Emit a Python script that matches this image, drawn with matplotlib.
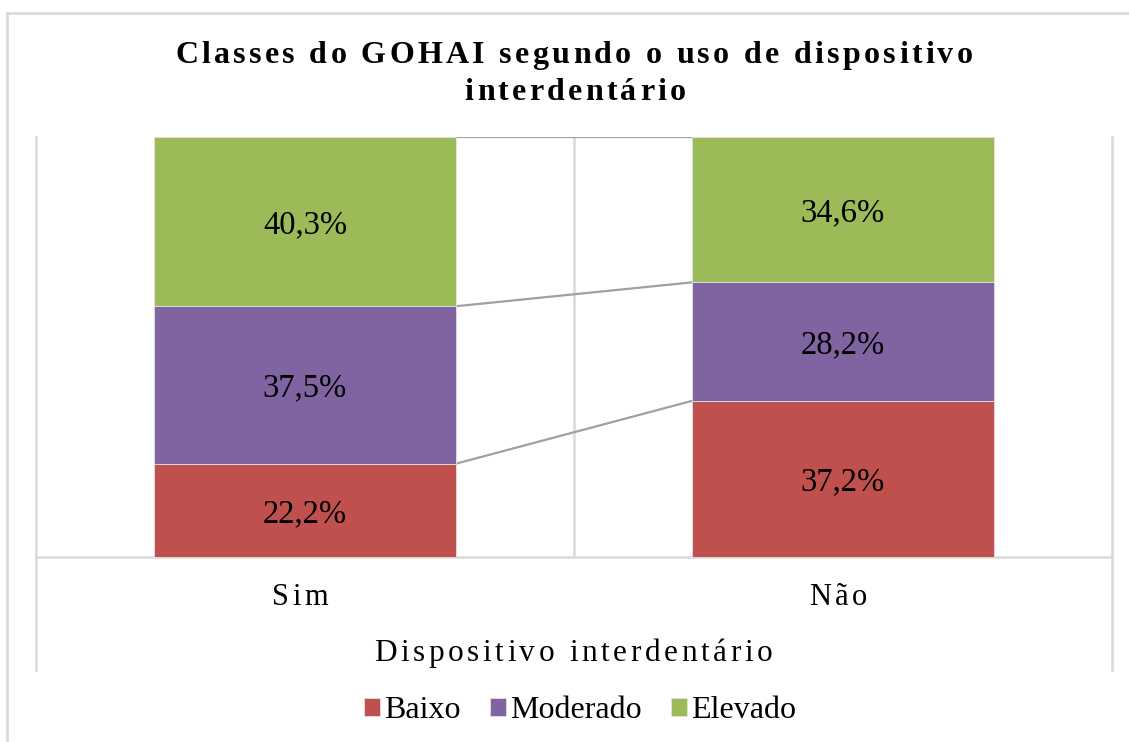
import matplotlib
matplotlib.use('Agg')
import matplotlib.pyplot as plt
from matplotlib.lines import Line2D
from matplotlib.font_manager import FontProperties

plt.rcParams['font.family'] = ['Liberation Serif', 'DejaVu Serif']

# dados
grupos = ['Sim', 'Não']
classes = ['Baixo', 'Moderado', 'Elevado']
baixo = [22.2, 37.2]
moderado = [37.5, 28.2]
elevado = [40.3, 34.6]
cores = ['#C0504D', '#8064A2', '#9BBB59']

W, H = 1129, 742
fig = plt.figure(figsize=(W / 100, H / 100), dpi=100)
ax = fig.add_axes([36 / W, 1 - 557 / H, (1112 - 36) / W, (557 - 137) / H])
ax.set_xlim(-0.5, 1.5)
ax.set_ylim(0, 100)
ax.axis('off')

largura = 0.56
x = list(range(len(grupos)))
series = [baixo, moderado, elevado]
base = [0.0] * len(grupos)
cumul = []
for nome, vals, cor in zip(classes, series, cores):
    ax.bar(x, vals, largura, bottom=base, color=cor, edgecolor='#e8e0e0',
           linewidth=0.6, label=nome, zorder=3)
    for xi, v, b in zip(x, vals, base):
        ax.text(xi, b + v / 2, f'{v:.1f}%'.replace('.', ','), ha='center',
                va='center_baseline', fontsize=23.5, color='black', zorder=4)
    base = [b + v for b, v in zip(base, vals)]
    cumul.append(list(base))

# linhas de série
for c in cumul:
    ax.plot([largura / 2, 1 - largura / 2], c, color='#A0A0A0', lw=1.6, zorder=2)

# grade / eixo
grid = '#D9D9D9'
ax.axvline(0.5, color=grid, lw=1.8, zorder=1)
ax.axhline(0, color=grid, lw=1.8, zorder=1, clip_on=False)
for xp in (36, 1112):
    fig.add_artist(Line2D([xp / W, xp / W], [1 - 137 / H, 1 - 670 / H],
                          color=grid, lw=1.8))
# borda do gráfico
fig.add_artist(Line2D([7 / W, 7 / W], [0, 1 - 13 / H], color=grid, lw=2))
fig.add_artist(Line2D([7 / W, 1], [1 - 13 / H, 1 - 13 / H], color=grid, lw=2))

renderer = fig.canvas.get_renderer()


def texto_espacado(s, cx, base_y, esp, size, weight='normal'):
    prop = FontProperties(family='Liberation Serif', size=size, weight=weight)

    def larg(t):
        w1, _, _ = renderer.get_text_width_height_descent(t + '|', prop, ismath=False)
        w0, _, _ = renderer.get_text_width_height_descent('|', prop, ismath=False)
        return w1 - w0

    pos = [larg(s[:i]) if i else 0.0 for i in range(len(s))]
    total = larg(s) + (len(s) - 1) * esp
    x0 = cx - total / 2
    for i, ch in enumerate(s):
        fig.text((x0 + pos[i] + i * esp) / W, 1 - base_y / H, ch,
                 fontproperties=prop, ha='left', va='baseline', color='black')


texto_espacado('Classes do GOHAI segundo o uso de dispositivo', 574, 63, 3.3, 23, 'bold')
texto_espacado('interdentário', 575, 100, 3.3, 23, 'bold')
for xi, g in zip(x, grupos):
    cx = ax.transData.transform((xi, 0))[0] - 5
    texto_espacado(g, cx, 605, 4, 22)
texto_espacado('Dispositivo interdentário', 573, 661, 3.6, 22.5)

fig.legend(loc='center', bbox_to_anchor=(580 / W, 1 - 711 / H), ncol=3,
           frameon=False, fontsize=23, handlelength=0.5, handleheight=0.5,
           handletextpad=0.15, columnspacing=0.9, borderaxespad=0)

fig.savefig('out.png', dpi=100)
